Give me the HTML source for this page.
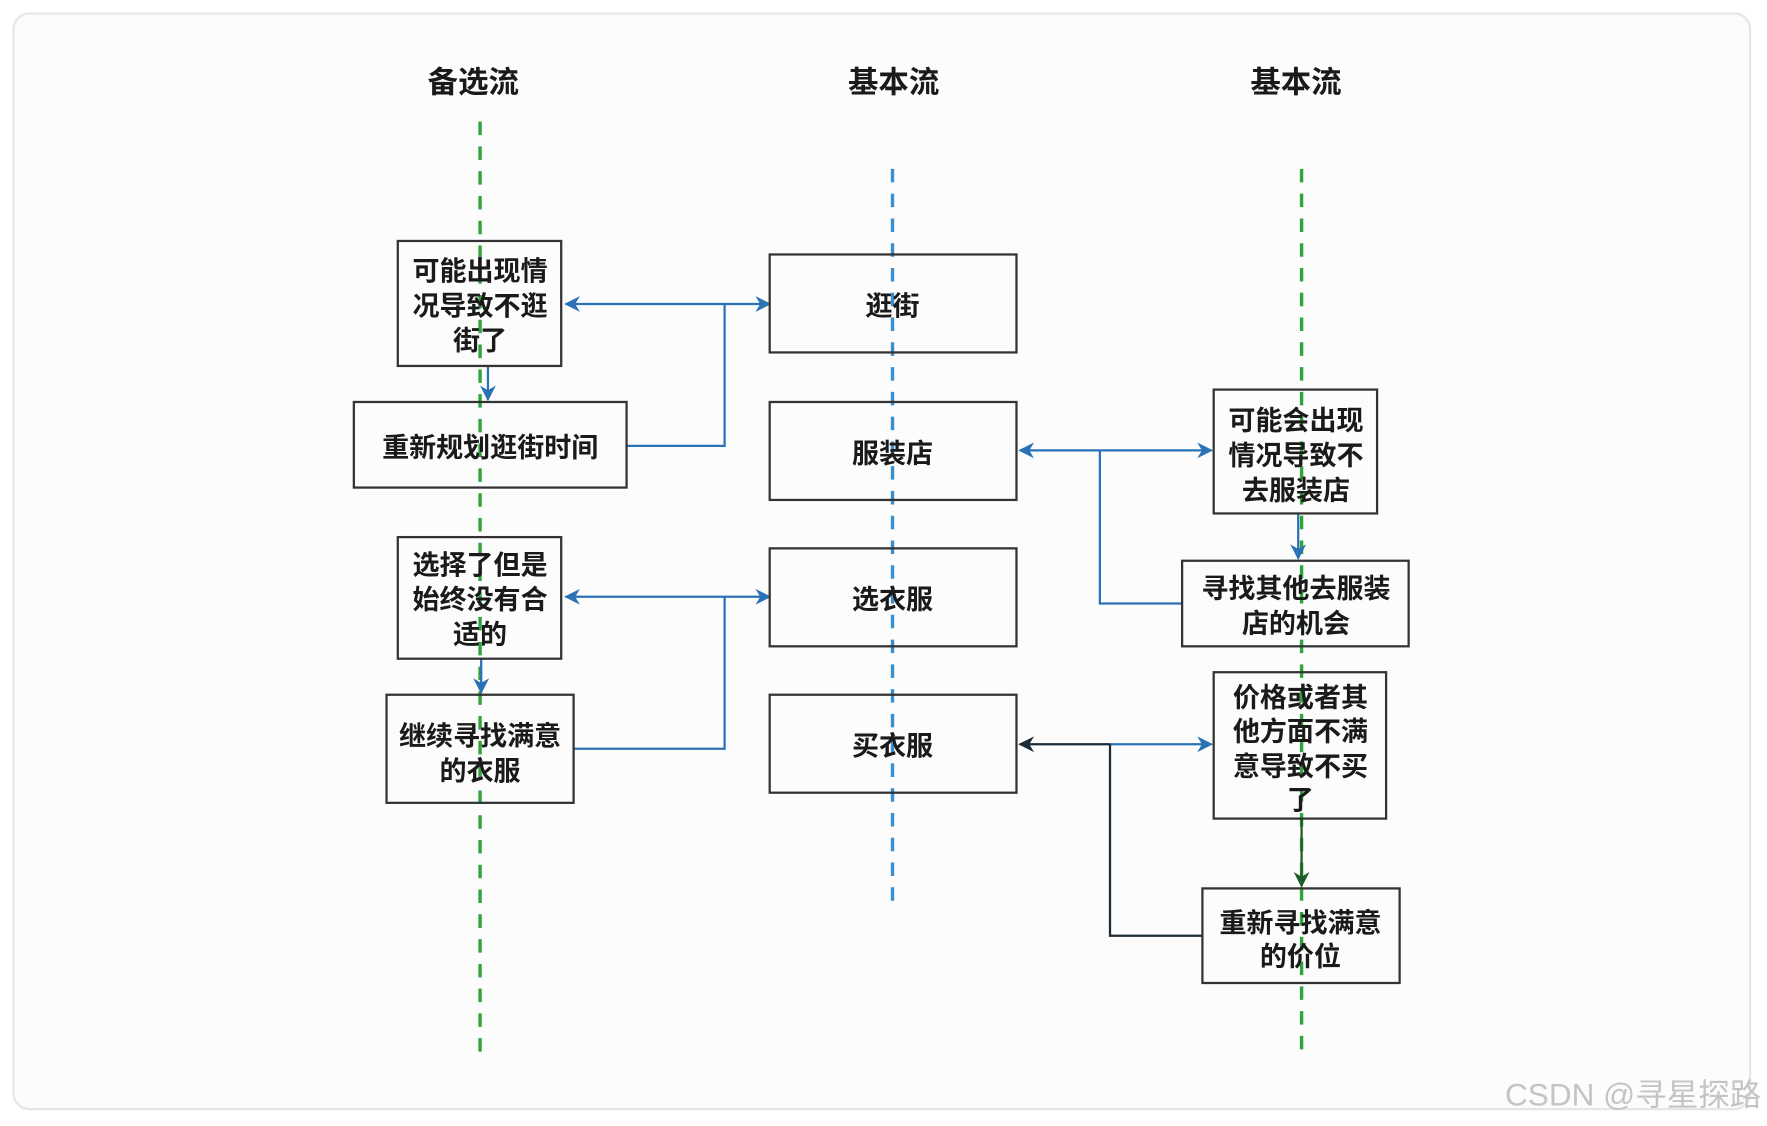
<!DOCTYPE html>
<html><head><meta charset="utf-8"><style>
html,body{margin:0;padding:0;background:#fff;}
svg{display:block}
text{font-family:"Liberation Sans","Noto Sans CJK SC",sans-serif;fill:#1a1a1a;}
</style></head><body>
<svg width="1767" height="1126" viewBox="0 0 1568 1000" preserveAspectRatio="none" xmlns="http://www.w3.org/2000/svg">
<defs>
<marker id="ab" viewBox="0 0 10 10" refX="9" refY="5" markerWidth="7" markerHeight="7" orient="auto-start-reverse"><path d="M0,0 L10,5 L0,10 L3,5 z" fill="#2a72b5"/></marker>
<marker id="ak" viewBox="0 0 10 10" refX="9" refY="5" markerWidth="7" markerHeight="7" orient="auto-start-reverse"><path d="M0,0 L10,5 L0,10 L3,5 z" fill="#1d2b36"/></marker>
<marker id="ag" viewBox="0 0 10 10" refX="9" refY="5" markerWidth="7" markerHeight="7" orient="auto-start-reverse"><path d="M0,0 L10,5 L0,10 L3,5 z" fill="#1f5a2a"/></marker>
</defs>
<rect x="12" y="12" width="1541" height="973" rx="14" fill="#fbfcfb" stroke="#e6e6e6" stroke-width="2"/>
<g font-size="27" text-anchor="middle" font-weight="bold">
<text x="420" y="82">备选流</text><text x="793" y="82">基本流</text><text x="1150" y="82">基本流</text>
</g>
<g stroke-width="3" stroke-dasharray="12,10" fill="none">
<line x1="426" y1="108" x2="426" y2="940" stroke="#2ea43a"/>
<line x1="792" y1="150" x2="792" y2="810" stroke="#3a8fd0"/>
<line x1="1155" y1="150" x2="1155" y2="940" stroke="#2ea43a"/>
</g>
<g fill="none" stroke-width="2">
<line x1="502" y1="270" x2="683" y2="270" stroke="#2a72b5" marker-start="url(#ab)" marker-end="url(#ab)"/>
<polyline points="643,270 643,396 556,396" stroke="#2a72b5"/>
<line x1="433" y1="325" x2="433" y2="355" stroke="#2a72b5" marker-end="url(#ab)"/>
<line x1="502" y1="530" x2="683" y2="530" stroke="#2a72b5" marker-start="url(#ab)" marker-end="url(#ab)"/>
<polyline points="643,530 643,665 509,665" stroke="#2a72b5"/>
<line x1="427" y1="585" x2="427" y2="615" stroke="#2a72b5" marker-end="url(#ab)"/>
<line x1="905" y1="400" x2="1075" y2="400" stroke="#2a72b5" marker-start="url(#ab)" marker-end="url(#ab)"/>
<polyline points="976,400 976,536 1049,536" stroke="#2a72b5"/>
<line x1="1152" y1="456" x2="1152" y2="496" stroke="#2a72b5" marker-end="url(#ab)"/>
<line x1="905" y1="661" x2="985" y2="661" stroke="#1d2b36" marker-start="url(#ak)"/>
<line x1="985" y1="661" x2="1075" y2="661" stroke="#2a72b5" marker-end="url(#ab)"/>
<polyline points="985,661 985,831 1067,831" stroke="#1d2b36"/>
<line x1="1155" y1="727" x2="1155" y2="787" stroke="#1f5a2a" marker-end="url(#ag)"/>
</g>
<g fill="none" stroke="#333" stroke-width="2">
<rect x="353" y="214" width="145" height="111"/>
<rect x="314" y="357" width="242" height="76"/>
<rect x="353" y="477" width="145" height="108"/>
<rect x="343" y="617" width="166" height="96"/>
<rect x="683" y="226" width="219" height="87"/>
<rect x="683" y="357" width="219" height="87"/>
<rect x="683" y="487" width="219" height="87"/>
<rect x="683" y="617" width="219" height="87"/>
<rect x="1077" y="346" width="145" height="110"/>
<rect x="1049" y="498" width="201" height="76"/>
<rect x="1077" y="597" width="153" height="130"/>
<rect x="1067" y="789" width="175" height="84"/>
</g>
<g font-size="24" text-anchor="middle" font-weight="bold">
<text x="426" y="249">可能出现情</text><text x="426" y="280">况导致不逛</text><text x="426" y="311">街了</text>
<text x="435" y="406">重新规划逛街时间</text>
<text x="426" y="510">选择了但是</text><text x="426" y="541">始终没有合</text><text x="426" y="572">适的</text>
<text x="426" y="662">继续寻找满意</text><text x="426" y="693">的衣服</text>
<text x="792" y="280">逛街</text><text x="792" y="411">服装店</text><text x="792" y="541">选衣服</text><text x="792" y="671">买衣服</text>
<text x="1150" y="382">可能会出现</text><text x="1150" y="413">情况导致不</text><text x="1150" y="444">去服装店</text>
<text x="1150" y="531">寻找其他去服装</text><text x="1150" y="562">店的机会</text>
<text x="1154" y="628">价格或者其</text><text x="1154" y="658">他方面不满</text><text x="1154" y="689">意导致不买</text><text x="1154" y="719">了</text>
<text x="1154" y="828">重新寻找满意</text><text x="1154" y="858">的价位</text>
</g>
<text x="1563" y="982" font-size="28" text-anchor="end" style="fill:#c4c4c4">CSDN @寻星探路</text>
</svg>
</body></html>
